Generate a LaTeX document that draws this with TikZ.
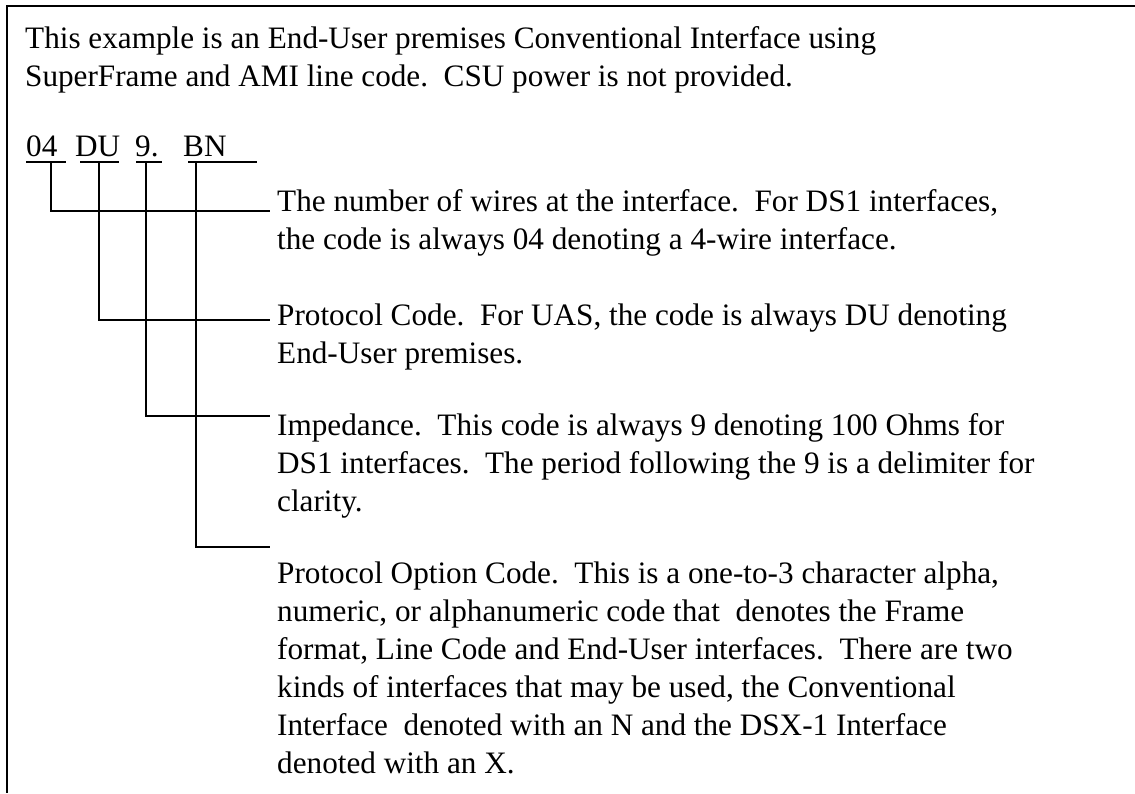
\documentclass[tikz,border=0pt]{standalone}
\usepackage{fontspec}
\setmainfont{Liberation Serif}
\usetikzlibrary{positioning}

\begin{document}
\begin{tikzpicture}[
      x=1pt, y=-1pt,
      txt/.style={
        anchor=base west,
        inner sep=0pt,
        align=left,
        font=\fontsize{31.2}{38}\selectfont
      },
      wire/.style={draw, line width=2.8pt},
      frame/.style={draw, line width=2.5pt}
    ]
    \useasboundingbox (0,0) rectangle (1135,793);
    \draw[frame] (1135,6) -- (7,6) -- (7,793);

    \node[txt] (intro) at (25,86) {This example is an End-User premises Conventional Interface using\\
      SuperFrame and AMI line code.\ \ CSU power is not provided.};

    \node[txt] (c04) at (26,156) {04};
    \node[txt] (cdu) at (75,156) {DU};
    \node[txt] (cnine) at (135,156) {9.};
    \node[txt] (cbn) at (183,156) {BN};

    \node[txt] (tnum) at (277,249) {The number of wires at the interface.\ \ For DS1 interfaces,\\
      the code is always 04 denoting a 4-wire interface.};
    \node[txt] (tproto) at (277,363) {Protocol Code.\ \ For UAS, the code is always DU denoting\\
      End-User premises.};
    \node[txt] (timp) at (277,511) {Impedance.\ \ This code is always 9 denoting 100 Ohms for\\
      DS1 interfaces.\ \ The period following the 9 is a delimiter for\\
      clarity.};
    \node[txt] (topt) at (277,773) {Protocol Option Code.\ \ This is a one-to-3 character alpha,\\
      numeric, or alphanumeric code that\ \ denotes the Frame\\
      format, Line Code and End-User interfaces.\ \ There are two\\
      kinds of interfaces that may be used, the Conventional\\
      Interface\ \ denoted with an N and the DSX-1 Interface\\
      denoted with an X.};

    \draw[wire] (26,162) -- (66,162);
    \draw[wire] (80,162) -- (119,162);
    \draw[wire] (136,162) -- (162,162);
    \draw[wire] (188,162) -- (257,162);

    \coordinate (u04) at (51,162);
    \coordinate (udu) at (99,162);
    \coordinate (unine) at (146,162);
    \coordinate (ubn) at (196,162);
    \coordinate (e04) at (270,211);
    \coordinate (edu) at (270,320);
    \coordinate (enine) at (270,416);
    \coordinate (ebn) at (270,547);

    \draw[wire] (u04) |- (e04);
    \draw[wire] (udu) |- (edu);
    \draw[wire] (unine) |- (enine);
    \draw[wire] (ubn) |- (ebn);
  \end{tikzpicture}
\end{document}
